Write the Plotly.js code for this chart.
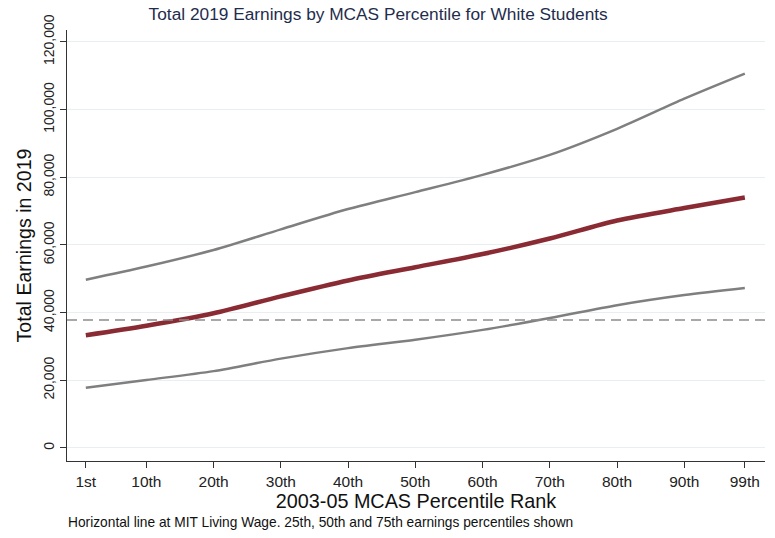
<!DOCTYPE html>
<html>
<head>
<meta charset="utf-8">
<script src="https://cdn.plot.ly/plotly-3.0.1.min.js"></script>
<style>html,body{margin:0;padding:0;background:#fff;}#chart{width:775px;height:538px;}</style>
</head>
<body>
<div id="chart"></div>
<script>
const percentiles = [1, 10, 20, 30, 40, 50, 60, 70, 80, 90, 99];
const tickLabels = ["1st", "10th", "20th", "30th", "40th", "50th", "60th", "70th", "80th", "90th", "99th"];
const p25 = [17800, 20100, 22700, 26400, 29500, 32000, 34900, 38400, 42200, 45200, 47300];
const p50 = [33300, 36100, 39800, 44800, 49500, 53400, 57300, 61900, 67200, 70900, 74000];
const p75 = [49700, 53600, 58500, 64600, 70600, 75600, 80700, 86600, 94300, 103200, 110600];
const livingWage = 37800;
const xRange = [-1.8, 102];

const traces = [
  {x: percentiles, y: p25, mode: 'lines', line: {color: '#7f7f7f', width: 2.5, shape: 'spline', smoothing: 0.8}, hoverinfo: 'skip'},
  {x: percentiles, y: p75, mode: 'lines', line: {color: '#7f7f7f', width: 2.5, shape: 'spline', smoothing: 0.8}, hoverinfo: 'skip'},
  {x: percentiles, y: p50, mode: 'lines', line: {color: '#8a2b34', width: 4.5, shape: 'spline', smoothing: 0.8}, hoverinfo: 'skip'},
  {x: xRange, y: [livingWage, livingWage], mode: 'lines', line: {color: '#8c8c8c', width: 1.5, dash: '10px,6px'}, hoverinfo: 'skip'}
];

const layout = {
  width: 775, height: 538,
  margin: {l: 67, r: 10, t: 30, b: 77},
  paper_bgcolor: '#ffffff', plot_bgcolor: '#ffffff',
  showlegend: false,
  font: {family: 'Liberation Sans, Arial, sans-serif', color: '#222'},
  title: {text: 'Total 2019 Earnings by MCAS Percentile for White Students', font: {size: 17.3, color: '#1f2d4d'}, x: 0.488, xanchor: 'center', y: 0.974, yanchor: 'middle'},
  xaxis: {
    range: xRange, tickmode: 'array', tickvals: percentiles, ticktext: tickLabels,
    showgrid: false, zeroline: false, showline: true, linecolor: '#333', linewidth: 1.3,
    ticks: 'outside', ticklen: 6, tickcolor: '#333', tickfont: {size: 15.5, color: '#222'},
    title: {text: '2003-05 MCAS Percentile Rank', font: {size: 19.8, color: '#111'}, standoff: 4}
  },
  yaxis: {
    range: [-3850, 123500], tickvals: [0, 20000, 40000, 60000, 80000, 100000, 120000],
    ticktext: ['0', '20,000', '40,000', '60,000', '80,000', '100,000', '120,000'],
    tickangle: -90, showgrid: true, gridcolor: '#e9eff1', gridwidth: 1, zeroline: false,
    showline: true, linecolor: '#333', linewidth: 1.3,
    ticks: 'outside', ticklen: 6, tickcolor: '#333', tickfont: {size: 14, color: '#222'},
    title: {text: 'Total Earnings in 2019', font: {size: 19.6, color: '#111'}, standoff: 4}
  },
  annotations: [
    {text: 'Horizontal line at MIT Living Wage. 25th, 50th and 75th earnings percentiles shown', xref: 'paper', yref: 'paper', x: -0.001, xanchor: 'left', y: -0.142, yanchor: 'middle', showarrow: false, font: {size: 13.75, color: '#111'}}
  ]
};

Plotly.newPlot('chart', traces, layout, {displayModeBar: false, staticPlot: true});
</script>
</body>
</html>
